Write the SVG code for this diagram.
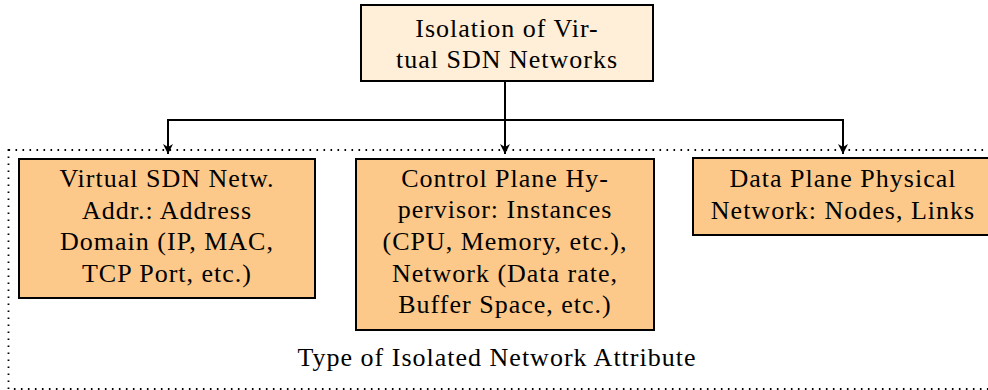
<svg xmlns="http://www.w3.org/2000/svg" width="988" height="390" viewBox="0 0 988 390" font-family="Liberation Serif, serif">
<style>
text{font-size:26px;letter-spacing:1px;fill:#000;text-anchor:middle}
.top{fill:#FFEFD9;stroke:#000;stroke-width:2}
.box{fill:#FCC98A;stroke:#000;stroke-width:2}
.con{fill:none;stroke:#000;stroke-width:2}
.frame{fill:none;stroke:#000;stroke-width:1.8;stroke-dasharray:1.6 5.4}
</style>
<defs>
<marker id="ah" viewBox="0 0 10 10" refX="10" refY="5" markerWidth="5" markerHeight="5" markerUnits="strokeWidth" orient="auto">
<path d="M0,0 L10,5 L0,10 L3,5 Z" fill="#000"/>
</marker>
</defs>
<rect class="frame" x="8.5" y="150" width="990" height="239"/>
<g id="root">
<rect class="top" x="361" y="5" width="292" height="76"/>
<text x="507" y="37">Isolation of Vir-</text>
<text x="507" y="68">tual SDN Networks</text>
</g>
<g id="connectors">
<path class="con" d="M505,81 V154" marker-end="url(#ah)"/>
<path class="con" d="M168,120 H843"/>
<path class="con" d="M168,119 V154" marker-end="url(#ah)"/>
<path class="con" d="M843,119 V154" marker-end="url(#ah)"/>
</g>
<g id="addr">
<rect class="box" x="19" y="159" width="296" height="139"/>
<text x="167" y="187">Virtual SDN Netw.</text>
<text x="167" y="219">Addr.: Address</text>
<text x="167" y="250">Domain (IP, MAC,</text>
<text x="167" y="282">TCP Port, etc.)</text>
</g>
<g id="control">
<rect class="box" x="356" y="159" width="298" height="171"/>
<text x="505" y="187">Control Plane Hy-</text>
<text x="505" y="218">pervisor: Instances</text>
<text x="505" y="250">(CPU, Memory, etc.),</text>
<text x="505" y="282">Network (Data rate,</text>
<text x="505" y="313">Buffer Space, etc.)</text>
</g>
<g id="data">
<rect class="box" x="693" y="158" width="300" height="77"/>
<text x="843" y="187">Data Plane Physical</text>
<text x="843" y="219">Network: Nodes, Links</text>
</g>
<g id="label">
<text x="497" y="366">Type of Isolated Network Attribute</text>
</g>
</svg>
